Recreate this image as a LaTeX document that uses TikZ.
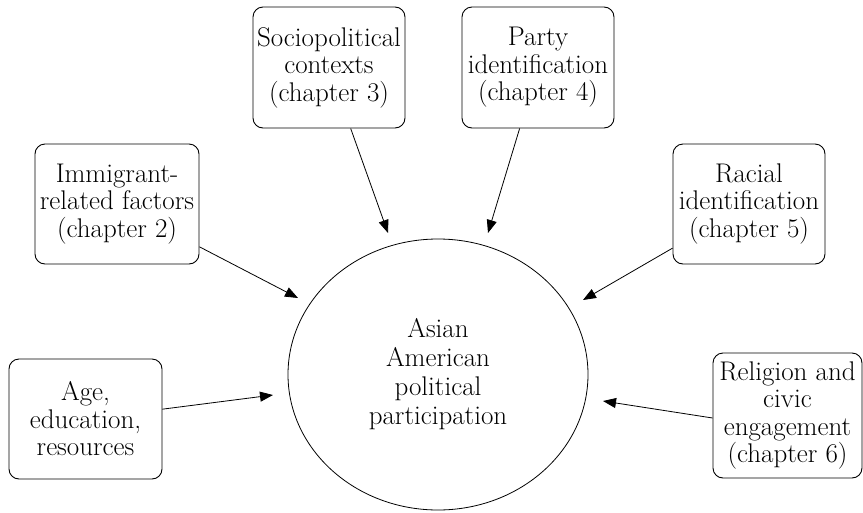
\documentclass[tikz,border=0pt]{standalone}
\usepackage{tikz}
\usetikzlibrary{arrows.meta,positioning,calc,shapes.geometric}

\begin{document}
\begin{tikzpicture}[x=1pt,y=-1pt,
  factor/.style={draw,line width=0.9pt,rounded corners=10pt,align=center,inner sep=0pt,font=\fontsize{27}{27.5}\selectfont},
  feed/.style={-{Triangle[length=13pt,width=10pt]},line width=0.8pt}]
\useasboundingbox (0,0) rectangle (863,512);
% outcome in the middle
\node[ellipse,draw,line width=0.8pt,minimum width=300pt,minimum height=271pt,inner sep=0pt,align=center,font=\fontsize{27}{29}\selectfont] (app) at (438,374.5) {Asian\\American\\political\\participation};
% explanatory factors
\node[factor,minimum width=164pt,minimum height=120pt] (imm) at (117,204) {Immigrant-\\related factors\\(chapter 2)};
\node[factor,minimum width=152pt,minimum height=121pt] (soc) at (329,67.5) {Sociopolitical\\contexts\\(chapter 3)};
\node[factor,minimum width=152pt,minimum height=121pt] (pid) at (538,67.5) {Party\\identification\\(chapter 4)};
\node[factor,minimum width=152pt,minimum height=120pt] (rid) at (749,204) {Racial\\identification\\(chapter 5)};
\node[factor,minimum width=153pt,minimum height=120pt] (age) at (85.5,419) {Age,\\education,\\resources};
\node[factor,minimum width=149pt,minimum height=125pt] (rel) at (787.5,415.5) {Religion and\\civic\\engagement\\(chapter 6)};
% arrow tips stop short of the ellipse
\coordinate (immtip) at (298,298);
\coordinate (soctip) at (388,233);
\coordinate (pidtip) at (488,233);
\coordinate (ridtip) at (583,300);
\coordinate (agetip) at (273,395);
\coordinate (reltip) at (603,401);
\foreach \src in {imm,soc,pid,rid,age}{\draw[feed] (\src) -- (\src tip);}
\draw[feed] ($(rel.west)+(0,2.5)$) -- (reltip);
\end{tikzpicture}
\end{document}
